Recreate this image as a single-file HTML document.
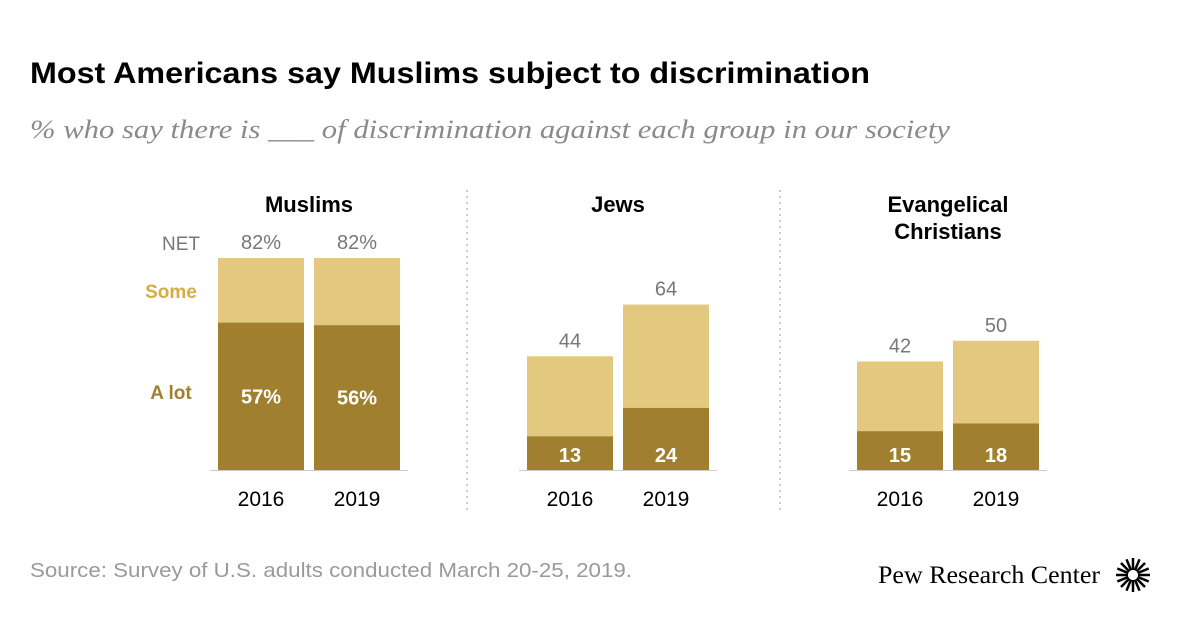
<!DOCTYPE html>
<html><head><meta charset="utf-8">
<style>
body{margin:0;background:#fff;font-family:"Liberation Sans",sans-serif;}
#wrap{position:relative;width:1200px;height:628px;overflow:hidden;}
</style></head>
<body>
<div id="wrap">
<svg id="chart" width="1200" height="628" xmlns="http://www.w3.org/2000/svg">
<text x="30" y="83" font-size="30" font-weight="bold" fill="#000" textLength="840" lengthAdjust="spacingAndGlyphs">Most Americans say Muslims subject to discrimination</text>
<text x="30" y="138" font-size="26" font-style="italic" fill="#8a8a8a" font-family="Liberation Serif, serif" textLength="920" lengthAdjust="spacingAndGlyphs">% who say there is ___ of discrimination against each group in our society</text>
<line x1="467" y1="190" x2="467" y2="510" stroke="#999" stroke-dasharray="2,4"/>
<line x1="780" y1="190" x2="780" y2="510" stroke="#999" stroke-dasharray="2,4"/>
<text x="181" y="250" font-size="19" fill="#777" text-anchor="middle">NET</text>
<text x="171" y="298" font-size="19" font-weight="bold" fill="#d4ad45" text-anchor="middle">Some</text>
<text x="171" y="399" font-size="19" font-weight="bold" fill="#a07f2e" text-anchor="middle">A lot</text>
<g id="marks"></g>
<text x="30" y="577" font-size="20" fill="#9a9a9a" textLength="602" lengthAdjust="spacingAndGlyphs">Source: Survey of U.S. adults conducted March 20-25, 2019.</text>
<text x="878" y="583" font-size="25" fill="#000" font-family="Liberation Serif, serif" textLength="222" lengthAdjust="spacingAndGlyphs">Pew Research Center</text>
<g transform="translate(1133,575)" id="logo"></g>
</svg>
</div>
<script>
const groups = ["Muslims", "Jews", "Evangelical|Christians"];
const years = ["2016", "2019"];
const netValues = [[82, 82], [44, 64], [42, 50]];
const aLotValues = [[57, 56], [13, 24], [15, 18]];
const netLabels = [["82%", "82%"], ["44", "64"], ["42", "50"]];
const aLotLabels = [["57%", "56%"], ["13", "24"], ["15", "18"]];

const NS = "http://www.w3.org/2000/svg";
const baseY = 470, pxPer = 2.585, barW = 86;
const groupX = [218, 527, 857];
const y = v => baseY - v * pxPer;
const marks = document.getElementById('marks');
function mk(tag, attrs, txt){const e=document.createElementNS(NS,tag);for(const k in attrs)e.setAttribute(k,attrs[k]);if(txt!==undefined)e.textContent=txt;marks.appendChild(e);return e;}
groups.forEach((g, gi) => {
  const cx = groupX[gi] + barW + 5;
  const lines = g.split("|");
  lines.forEach((l, li) => {
    const t = mk('text', {x: cx, y: 212 + li * 27, 'font-size': 22, 'font-weight': 'bold', 'text-anchor': 'middle', fill: '#000'}, l);
    
    
  });
  years.forEach((yr, yi) => {
    const x = groupX[gi] + yi * (barW + 10);
    const some = mk('rect', {x: x, y: y(netValues[gi][yi]), width: barW, height: baseY - y(netValues[gi][yi]), fill: '#e3c97f'});
    
    
    const lot = mk('rect', {x: x, y: y(aLotValues[gi][yi]), width: barW, height: baseY - y(aLotValues[gi][yi]), fill: '#a07f2e'});
    
    
    const nl = mk('text', {x: x + barW / 2, y: y(netValues[gi][yi]) - 9, 'font-size': 20, fill: '#777', 'text-anchor': 'middle'}, netLabels[gi][yi]);
    
    
    const ly = aLotValues[gi][yi] > 30 ? (y(aLotValues[gi][yi]) + baseY) / 2 + 7 : baseY - 8;
    const al = mk('text', {x: x + barW / 2, y: ly, 'font-size': 20, 'font-weight': 'bold', fill: '#fff', 'text-anchor': 'middle'}, aLotLabels[gi][yi]);
    
    
    const yl = mk('text', {x: x + barW / 2, y: 506, 'font-size': 21, fill: '#000', 'text-anchor': 'middle'}, yr);
    
    
  });
  const ax = mk('line', {x1: groupX[gi] - 8, x2: groupX[gi] + 2 * barW + 18, y1: baseY + 0.5, y2: baseY + 0.5, stroke: '#ccc'});
  
  
});
const logo = document.getElementById('logo');
for (let i = 0; i < 16; i++) {
  const a = i * Math.PI / 8;
  const l = document.createElementNS(NS, 'line');
  l.setAttribute('x1', 5 * Math.cos(a)); l.setAttribute('y1', 5 * Math.sin(a));
  l.setAttribute('x2', 17 * Math.cos(a)); l.setAttribute('y2', 17 * Math.sin(a));
  l.setAttribute('stroke', '#000'); l.setAttribute('stroke-width', 2.5);
  logo.appendChild(l);
}
</script>
</body></html>
